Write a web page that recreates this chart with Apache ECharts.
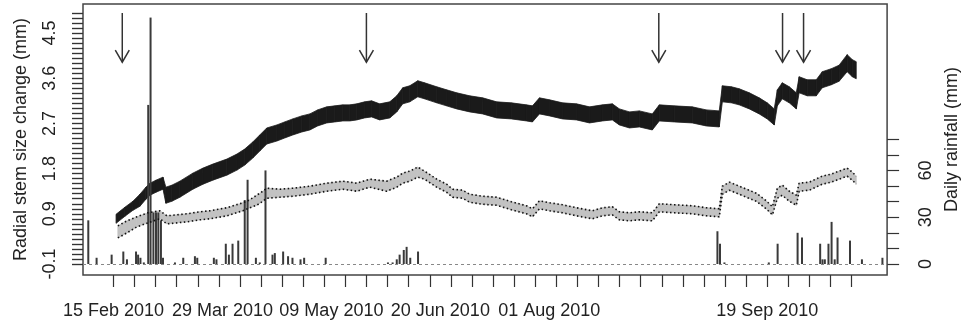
<!DOCTYPE html>
<html>
<head>
<meta charset="utf-8">
<script src="https://cdn.jsdelivr.net/npm/echarts@6/dist/echarts.min.js"></script>
<style>
html, body { margin: 0; padding: 0; background: #fff; }
#chart { width: 969px; height: 334px; }
</style>
</head>
<body>
<div id="chart"></div>
<script>
// x data are plot days counted from the first date label;
// the axis itself starts at the left edge of the box (dayOffset before the first label)
const dayOffset = 11.74;
const xSpan = 309.94;

const dateLabels = ['15 Feb 2010', '29 Mar 2010', '09 May 2010', '20 Jun 2010', '01 Aug 2010', '19 Sep 2010'];
const dateLabelPos = [0, 42, 84, 126, 168, 252];
const tickStep = 252 / 31;
const dateTicks = Array.from({ length: 36 }, (_, i) => i * tickStep);

const stemTicks = Array.from({ length: 51 }, (_, i) => +(-0.1 + i * 0.1).toFixed(1));
const stemLabels = [-0.1, 0.9, 1.8, 2.7, 3.6, 4.5];
const rainTicks = [0, 10, 20, 30, 40, 50, 60, 70, 80];
const rainLabels = [0, 30, 60];

// upper stem curve: daily max / min
const upperX = [1.0, 4.4, 7.5, 10.2, 12.5, 14.1, 16.4, 19.1, 20.2, 22.5, 25.6, 30.6, 34.5, 38.3, 43.7, 47.6, 50.6, 53.7, 56.4, 59.1,
  63.0, 66.0, 69.1, 72.6, 75.7, 78.7, 82.2, 85.3, 88.4, 91.1, 93.8, 96.8, 99.5, 102.6, 106.5, 109.2, 111.5, 114.2, 117.3, 119.9,
  124.6, 128.4, 132.3, 137.3, 142.3, 147.7, 153.4, 159.2, 161.5, 164.2, 168.1, 173.1, 178.5, 183.5, 188.5, 192.3, 195.0, 198.9, 202.7, 207.7,
  210.4, 216.2, 223.1, 228.5, 233.5, 234.7, 238.2, 241.2, 245.1, 248.9, 252.0, 254.7, 255.9, 257.8, 260.5, 263.2, 264.3, 267.4, 270.9, 273.2,
  276.7, 279.7, 282.8, 284.8, 286.3];
const upperHi = [0.89, 1.03, 1.15, 1.29, 1.43, 1.51, 1.57, 1.63, 1.43, 1.47, 1.55, 1.71, 1.81, 1.89, 1.99, 2.09, 2.19, 2.33, 2.47, 2.61,
  2.67, 2.73, 2.79, 2.85, 2.89, 2.97, 3.03, 3.05, 3.07, 3.07, 3.09, 3.13, 3.15, 3.09, 3.13, 3.25, 3.41, 3.45, 3.55, 3.51,
  3.43, 3.37, 3.31, 3.25, 3.21, 3.13, 3.11, 3.07, 3.05, 3.21, 3.17, 3.11, 3.09, 3.03, 3.07, 3.09, 2.99, 2.93, 2.95, 2.89,
  3.07, 3.05, 3.03, 2.97, 2.95, 3.45, 3.43, 3.39, 3.31, 3.21, 3.11, 2.99, 3.37, 3.51, 3.43, 3.31, 3.63, 3.57, 3.57, 3.73,
  3.79, 3.86, 4.07, 3.97, 3.93];
const upperLo = [0.71, 0.85, 0.97, 1.05, 1.19, 1.27, 1.33, 1.39, 1.11, 1.15, 1.23, 1.39, 1.49, 1.57, 1.67, 1.77, 1.87, 2.01, 2.15, 2.29,
  2.35, 2.41, 2.47, 2.53, 2.57, 2.65, 2.71, 2.73, 2.75, 2.75, 2.77, 2.81, 2.83, 2.77, 2.81, 2.93, 3.09, 3.13, 3.23, 3.19,
  3.11, 3.05, 2.99, 2.93, 2.89, 2.81, 2.79, 2.75, 2.73, 2.89, 2.85, 2.79, 2.77, 2.71, 2.75, 2.77, 2.67, 2.61, 2.63, 2.57,
  2.75, 2.73, 2.71, 2.65, 2.63, 3.13, 3.11, 3.07, 2.99, 2.89, 2.79, 2.67, 3.05, 3.19, 3.11, 2.99, 3.31, 3.25, 3.25, 3.41,
  3.47, 3.54, 3.73, 3.63, 3.59];

// lower stem curve (dotted): daily max / min
const lowerX = [1.7, 5.2, 9.0, 13.3, 17.9, 20.6, 24.5, 28.3, 33.3, 37.2, 43.7, 49.9, 52.6, 55.2, 57.6, 59.1, 64.1, 69.1, 75.7, 82.2,
  88.4, 93.8, 98.8, 105.3, 109.2, 111.5, 114.2, 117.3, 119.9, 124.6, 128.4, 130.7, 134.6, 137.3, 142.3, 147.7, 153.4, 159.2, 161.5, 164.2,
  168.1, 173.1, 178.5, 184.6, 188.5, 192.3, 195.0, 198.9, 202.7, 207.7, 210.4, 216.2, 223.1, 228.5, 233.5, 234.7, 237.4, 241.2, 247.8, 251.6,
  254.0, 255.9, 257.8, 260.5, 263.2, 264.3, 268.2, 273.2, 276.7, 279.7, 282.8, 284.8, 286.3];
const lowerHi = [0.66, 0.76, 0.84, 0.92, 0.96, 0.86, 0.88, 0.90, 0.94, 0.96, 1.02, 1.12, 1.18, 1.27, 1.35, 1.41, 1.39, 1.41, 1.45, 1.51,
  1.55, 1.51, 1.59, 1.55, 1.63, 1.71, 1.75, 1.83, 1.75, 1.59, 1.49, 1.39, 1.37, 1.29, 1.25, 1.23, 1.14, 1.06, 1.00, 1.16,
  1.12, 1.08, 1.02, 0.96, 1.02, 1.04, 0.94, 0.92, 0.94, 0.92, 1.10, 1.08, 1.06, 1.02, 1.00, 1.45, 1.53, 1.45, 1.31, 1.16,
  1.04, 1.41, 1.47, 1.35, 1.27, 1.51, 1.53, 1.65, 1.69, 1.75, 1.81, 1.73, 1.65];
const lowerLo = [0.42, 0.52, 0.64, 0.72, 0.80, 0.70, 0.72, 0.74, 0.78, 0.80, 0.86, 0.96, 1.02, 1.07, 1.15, 1.21, 1.23, 1.25, 1.29, 1.35,
  1.39, 1.35, 1.43, 1.35, 1.43, 1.51, 1.55, 1.63, 1.59, 1.43, 1.33, 1.23, 1.21, 1.13, 1.09, 1.07, 0.98, 0.90, 0.84, 1.00,
  0.96, 0.92, 0.86, 0.80, 0.86, 0.88, 0.78, 0.76, 0.78, 0.76, 0.94, 0.92, 0.90, 0.86, 0.84, 1.29, 1.37, 1.29, 1.15, 1.00,
  0.88, 1.21, 1.27, 1.15, 1.07, 1.35, 1.37, 1.49, 1.53, 1.59, 1.65, 1.57, 1.49];

// daily rainfall (mm)
const rainX = [-9.7, -6.5, -0.7, 3.8, 5.2, 8.7, 9.5, 10.4, 11.7, 13.4, 14.3, 15.4, 16.4, 17.3, 18.3, 19.1, 23.7, 26.9, 31.4, 32.3,
  38.7, 39.7, 43.3, 44.5, 45.9, 48.1, 50.6, 51.7, 54.9, 56.4, 58.6, 61.3, 62.2, 65.4, 67.3, 69.0, 72.1, 73.5, 81.8, 105.8,
  107.6, 109.2, 110.3, 111.9, 113.0, 114.4, 117.4, 232.8, 233.8, 235.5, 252.6, 256.0, 263.7, 265.4, 272.4, 273.3, 274.2, 275.6, 276.8, 278.0,
  279.1, 283.9, 288.5, 296.4];
const rainMm = [28, 4, 6, 8, 3, 8, 6, 4, 1, 102, 158, 33, 33, 33, 28, 4, 1, 4, 5, 4,
  4, 3, 13, 6, 13, 15, 41, 54, 4, 1, 60, 6, 7, 8, 5, 4, 3, 4, 4, 1,
  1, 3, 6, 9, 11, 4, 8, 21, 13, 1, 1, 13, 20, 17, 13, 3, 3, 13, 27, 3,
  17, 15, 3, 4];

// event arrows
const arrowX = [3.4, 97.5, 210.2, 257.9, 266.0];
const arrowTop = 4.9;
const arrowTip = 3.92;

const font = 'Liberation Sans, Arial, sans-serif';
const ink = '#222';
const tickLine = { color: '#333', width: 1.2 };
const sx = x => x + dayOffset;

function bandItems(xs, hi, lo) {
  return xs.slice(0, -1).map((x, i) => [sx(x), hi[i], lo[i], sx(xs[i + 1]), hi[i + 1], lo[i + 1]]);
}
function bandRenderer(fill) {
  return (params, api) => {
    const a = api.coord([api.value(0), api.value(1)]);
    const b = api.coord([api.value(3), api.value(4)]);
    const c = api.coord([api.value(3), api.value(5)]);
    const d = api.coord([api.value(0), api.value(2)]);
    return { type: 'polygon', shape: { points: [a, b, c, d] }, style: { fill: fill, stroke: fill, lineWidth: 0.8 } };
  };
}

const dotted = { color: '#111', width: 1.6, type: [1.5, 2.5] };

const chart = echarts.init(document.getElementById('chart'));
chart.setOption({
  animation: false,
  grid: [
    { left: 83, right: 81, top: 4, bottom: 59, show: true, borderColor: '#444', borderWidth: 1.5 },
    // narrow strip left of the box that carries the stem tick comb
    { left: 72, width: 11, top: 13, bottom: 70, show: false }
  ],
  xAxis: [{
    type: 'value', min: 0, max: xSpan,
    axisLine: { show: false, onZero: false }, splitLine: { show: false },
    axisTick: { show: true, length: 12, customValues: dateTicks.map(sx), lineStyle: tickLine },
    axisLabel: {
      customValues: dateLabelPos.map(sx), margin: 27, fontSize: 18, color: ink, fontFamily: font,
      formatter: v => {
        const i = dateLabelPos.findIndex(p => Math.abs(sx(p) - v) < 0.01);
        return i < 0 ? '' : dateLabels[i];
      }
    }
  }, {
    gridIndex: 1, type: 'value', min: 0, max: 1, show: false
  }],
  yAxis: [{
    type: 'value', min: -0.319, max: 5.079, position: 'left',
    axisLine: { show: false }, splitLine: { show: false },
    axisTick: { show: true, length: 11, customValues: stemTicks, lineStyle: tickLine },
    axisLabel: { customValues: stemLabels, rotate: 90, margin: 24, fontSize: 18, color: ink, fontFamily: font },
    name: 'Radial stem size change (mm)', nameLocation: 'middle', nameGap: 53,
    nameTextStyle: { fontSize: 18, color: ink, fontFamily: font }
  }, {
    type: 'value', min: -7.05, max: 166.7, position: 'right',
    axisLine: { show: false, onZero: false }, splitLine: { show: false },
    axisTick: { show: true, length: 12, customValues: rainTicks, lineStyle: tickLine },
    axisLabel: { customValues: rainLabels, rotate: 90, margin: 30, fontSize: 18, color: ink, fontFamily: font },
    name: 'Daily rainfall (mm)', nameLocation: 'middle', nameGap: 54,
    nameTextStyle: { fontSize: 18, color: ink, fontFamily: font }
  }, {
    gridIndex: 1, type: 'value', min: -0.1, max: 4.9, interval: 0.1,
    axisLine: { show: false, onZero: false }, axisTick: { show: false }, axisLabel: { show: false },
    splitLine: { show: true, lineStyle: tickLine }
  }],
  series: [{
    type: 'bar', yAxisIndex: 1, barWidth: 2,
    data: rainX.map((x, i) => [sx(x), rainMm[i]]),
    itemStyle: { color: '#3a3a3a' },
    markLine: {
      silent: true, symbol: 'none', label: { show: false },
      lineStyle: { type: [3, 3], color: '#888', width: 1 },
      data: [{ yAxis: 0 }]
    }
  }, {
    type: 'custom', yAxisIndex: 0,
    data: bandItems(upperX, upperHi, upperLo),
    encode: { x: [0, 3], y: [1, 2, 4, 5] },
    renderItem: bandRenderer('#1a1a1a')
  }, {
    type: 'custom', yAxisIndex: 0,
    data: bandItems(lowerX, lowerHi, lowerLo),
    encode: { x: [0, 3], y: [1, 2, 4, 5] },
    renderItem: bandRenderer('#c2c2c2')
  }, {
    type: 'line', yAxisIndex: 0, symbol: 'none',
    data: lowerX.map((x, i) => [sx(x), lowerHi[i]]),
    lineStyle: dotted
  }, {
    type: 'line', yAxisIndex: 0, symbol: 'none',
    data: lowerX.map((x, i) => [sx(x), lowerLo[i]]),
    lineStyle: dotted
  }, {
    type: 'custom', yAxisIndex: 0,
    data: arrowX.map(x => [sx(x), arrowTip]),
    encode: { x: 0, y: 1 },
    renderItem: (params, api) => {
      const top = api.coord([api.value(0), arrowTop]);
      const tip = api.coord([api.value(0), api.value(1)]);
      const st = { stroke: '#333', lineWidth: 1.5, fill: null };
      return {
        type: 'group', children: [
          { type: 'line', shape: { x1: top[0], y1: top[1], x2: tip[0], y2: tip[1] }, style: st },
          { type: 'polyline', shape: { points: [[tip[0] - 7, tip[1] - 12], tip, [tip[0] + 7, tip[1] - 12]] }, style: st }
        ]
      };
    }
  }]
});
</script>
</body>
</html>
